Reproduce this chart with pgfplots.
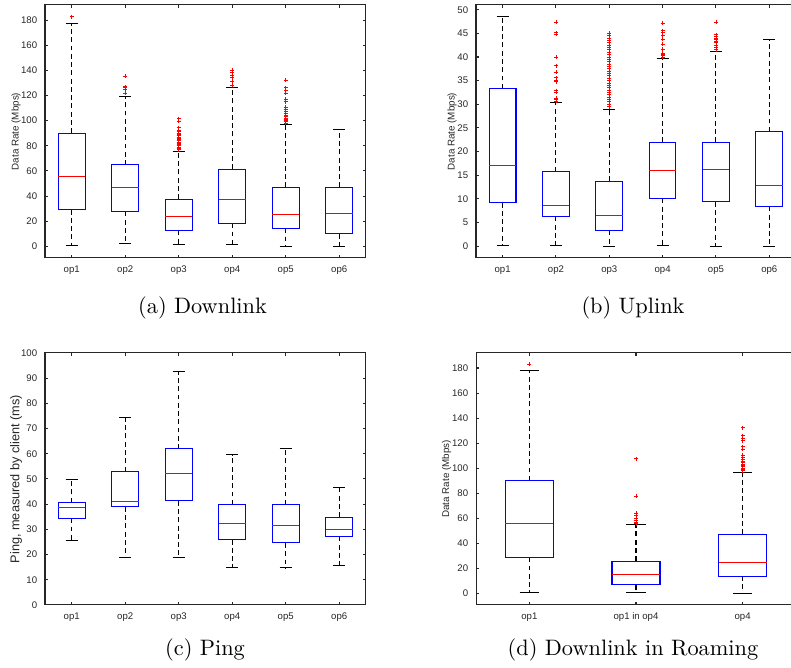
\documentclass[border=0pt]{standalone}
\usepackage{fontspec}
\usepackage{pgfplots}
\pgfplotsset{compat=1.18}
\usepgfplotslibrary{statistics}
\newfontfamily\arial{Liberation Sans}
\definecolor{axgray}{RGB}{38,38,38}
\pgfplotsset{
  myaxis/.style={
    scale only axis, anchor=south west,
    axis line style={draw=axgray, line width=0.45pt},
    tick style={draw=axgray, line width=0.45pt, solid},
    major tick length=1.4pt,
    tick align=inside,
    tick label style={font=\arial\fontsize{4.3}{5}\selectfont, text=axgray},
    ylabel style={font=\arial\fontsize{4.4}{5}\selectfont, text=axgray, anchor=center},
    /pgf/number format/assume math mode=true,
    clip mode=individual,
  },
  mybox/.style={
    boxplot/draw direction=y,
    boxplot/box extend=0.5,
    boxplot/whisker extend=0.23,
    boxplot/every box/.style={draw=blue, line width=0.45pt, solid},
    boxplot/every median/.style={draw=red, line width=0.45pt, solid},
    boxplot/every whisker/.style={draw=black, line width=0.45pt, dash pattern=on 2.2pt off 1.5pt},
    boxplot/draw/lower whisker/.code={%
      \draw[/pgfplots/boxplot/every whisker/.try]
        (boxplot whisker cs:\pgfplotsboxplotvalue{lower quartile},0.5) --
        (boxplot whisker cs:\pgfplotsboxplotvalue{lower whisker},0.5);
      \draw[black, line width=0.45pt, solid]
        (boxplot whisker cs:\pgfplotsboxplotvalue{lower whisker},0) --
        (boxplot whisker cs:\pgfplotsboxplotvalue{lower whisker},1);
    },
    boxplot/draw/upper whisker/.code={%
      \draw[/pgfplots/boxplot/every whisker/.try]
        (boxplot whisker cs:\pgfplotsboxplotvalue{upper quartile},0.5) --
        (boxplot whisker cs:\pgfplotsboxplotvalue{upper whisker},0.5);
      \draw[black, line width=0.45pt, solid]
        (boxplot whisker cs:\pgfplotsboxplotvalue{upper whisker},0) --
        (boxplot whisker cs:\pgfplotsboxplotvalue{upper whisker},1);
    },
    red, only marks, mark=+, mark size=0.9pt, mark options={red, solid, line width=0.4pt},
  },
}
\begin{document}
\begin{tikzpicture}
\useasboundingbox (0,0) rectangle (354.37pt,299.26pt);

% (a) Downlink
\begin{axis}[myaxis, at={(20.16pt,183.68pt)}, width=143.81pt, height=113.34pt,
  xmin=0.5, xmax=6.5, ymin=-9.3, ymax=192,
  xtick={1,...,6}, xticklabels={op1,op2,op3,op4,op5,op6},
  ytick={0,20,...,180},
  ylabel={Data Rate (Mbps)},
  ylabel style={at={(axis description cs:-0.0903,0.5)}}]
\addplot[mybox, boxplot prepared={draw position=1, median=55.7, upper quartile=90.1, lower quartile=29.2, upper whisker=177.4, lower whisker=0.5}] coordinates {(0,182.7)};
\addplot[mybox, boxplot prepared={draw position=2, median=46.4, upper quartile=64.7, lower quartile=27.8, upper whisker=119.3, lower whisker=2.4}] coordinates {(0,122)(0,124.5)(0,126)(0,127)(0,135.5)};
\addplot[mybox, boxplot prepared={draw position=3, median=23.9, upper quartile=37.6, lower quartile=12.5, upper whisker=75.6, lower whisker=1.1}] coordinates {(0,77)(0,78)(0,78.5)(0,79)(0,80)(0,80.5)(0,81)(0,82)(0,82.5)(0,83)(0,84)(0,84.5)(0,85)(0,86)(0,86.5)(0,87)(0,88)(0,88.5)(0,89)(0,90)(0,91)(0,92)(0,94.5)(0,99.5)(0,101.5)};
\addplot[mybox, boxplot prepared={draw position=4, median=37.1, upper quartile=61.2, lower quartile=18.3, upper whisker=126.2, lower whisker=1.6}] coordinates {(0,128)(0,131)(0,134)(0,136)(0,138.5)(0,140)};
\addplot[mybox, boxplot prepared={draw position=5, median=25.2, upper quartile=46.9, lower quartile=14.3, upper whisker=96.8, lower whisker=0}] coordinates {(0,98)(0,99)(0,100)(0,101)(0,102)(0,103)(0,104.5)(0,105.5)(0,107)(0,108.5)(0,110.5)(0,115)(0,117)(0,122)(0,124)(0,126)(0,132.3)};
\addplot[mybox, boxplot prepared={draw position=6, median=25.7, upper quartile=46.9, lower quartile=9.8, upper whisker=93.3, lower whisker=0}] coordinates {};
\end{axis}

% (b) Uplink
\begin{axis}[myaxis, at={(213.25pt,183.68pt)}, width=143.36pt, height=113.34pt,
  xmin=0.5, xmax=6.5, ymin=-2.5, ymax=51,
  xtick={1,...,6}, xticklabels={op1,op2,op3,op4,op5,op6},
  ytick={0,5,...,50},
  ylabel={Data Rate (Mbps)},
  ylabel style={at={(axis description cs:-0.075,0.5)}}]
\addplot[mybox, boxplot prepared={draw position=1, median=17.1, upper quartile=33.3, lower quartile=9.2, upper whisker=48.6, lower whisker=0.2}] coordinates {};
\addplot[mybox, boxplot prepared={draw position=2, median=8.7, upper quartile=15.8, lower quartile=6.3, upper whisker=30.3, lower whisker=0.2}] coordinates {(0,30.7)(0,31.0)(0,31.3)(0,32.5)(0,32.9)(0,34.8)(0,35.1)(0,35.6)(0,36.8)(0,38.2)(0,40)(0,44.8)(0,45.1)(0,47.3)};
\addplot[mybox, boxplot prepared={draw position=3, median=6.5, upper quartile=13.7, lower quartile=3.3, upper whisker=28.9, lower whisker=0}] coordinates {(0,29.5)(0,30)(0,30.5)(0,31)(0,31.5)(0,32)(0,32.5)(0,33)(0,33.5)(0,34)(0,34.5)(0,35)(0,35.5)(0,36)(0,36.5)(0,37)(0,37.5)(0,38)(0,38.5)(0,39)(0,39.5)(0,40)(0,40.5)(0,41)(0,41.5)(0,42)(0,42.5)(0,43)(0,43.5)(0,44)(0,44.5)(0,45)};
\addplot[mybox, boxplot prepared={draw position=4, median=16.1, upper quartile=22.0, lower quartile=10.1, upper whisker=39.7, lower whisker=0.1}] coordinates {(0,40.0)(0,40.3)(0,40.6)(0,40.8)(0,41.7)(0,42.7)(0,43.8)(0,44.5)(0,45.2)(0,45.6)(0,47.1)};
\addplot[mybox, boxplot prepared={draw position=5, median=16.3, upper quartile=22.0, lower quartile=9.4, upper whisker=41.2, lower whisker=0}] coordinates {(0,41.5)(0,42.0)(0,42.5)(0,43.0)(0,43.3)(0,43.7)(0,44.0)(0,44.4)(0,44.7)(0,47.4)};
\addplot[mybox, boxplot prepared={draw position=6, median=12.9, upper quartile=24.2, lower quartile=8.4, upper whisker=43.8, lower whisker=0}] coordinates {};
\end{axis}

% (c) Ping
\begin{axis}[myaxis, at={(20.16pt,28.22pt)}, width=143.81pt, height=112.9pt,
  xmin=0.5, xmax=6.5, ymin=0, ymax=100,
  xtick={1,...,6}, xticklabels={op1,op2,op3,op4,op5,op6},
  ytick={0,10,...,100},
  ylabel={Ping, measured by client (ms)},
  ylabel style={font=\arial\fontsize{5.7}{6}\selectfont, at={(axis description cs:-0.0903,0.5)}}]
\addplot[mybox, boxplot prepared={draw position=1, median=38.5, upper quartile=40.6, lower quartile=34.4, upper whisker=49.6, lower whisker=25.4}] coordinates {};
\addplot[mybox, boxplot prepared={draw position=2, median=40.9, upper quartile=53.0, lower quartile=38.9, upper whisker=74.2, lower whisker=18.7}] coordinates {};
\addplot[mybox, boxplot prepared={draw position=3, median=52.1, upper quartile=61.9, lower quartile=41.3, upper whisker=92.6, lower whisker=18.8}] coordinates {};
\addplot[mybox, boxplot prepared={draw position=4, median=32.5, upper quartile=39.8, lower quartile=25.9, upper whisker=59.7, lower whisker=14.9}] coordinates {};
\addplot[mybox, boxplot prepared={draw position=5, median=31.6, upper quartile=39.8, lower quartile=24.6, upper whisker=61.9, lower whisker=14.7}] coordinates {};
\addplot[mybox, boxplot prepared={draw position=6, median=29.9, upper quartile=34.9, lower quartile=27.2, upper whisker=46.8, lower whisker=15.7}] coordinates {};
\end{axis}

% (d) Downlink in Roaming
\begin{axis}[myaxis, at={(213.25pt,28.22pt)}, width=143.36pt, height=112.9pt,
  xmin=0.5, xmax=3.5, ymin=-9.3, ymax=192,
  xtick={1,2,3}, xticklabels={op1,op1 in op4,op4},
  ytick={0,20,...,180},
  ylabel={Data Rate (Mbps)},
  ylabel style={at={(axis description cs:-0.0916,0.5)}}]
\addplot[mybox, boxplot/box extend=0.45, boxplot/whisker extend=0.18, boxplot prepared={draw position=1, median=55.9, upper quartile=90, lower quartile=28.8, upper whisker=177.8, lower whisker=0.3}] coordinates {(0,183.2)};
\addplot[mybox, boxplot/box extend=0.45, boxplot/whisker extend=0.18, boxplot prepared={draw position=2, median=15.4, upper quartile=25.8, lower quartile=6.7, upper whisker=54.8, lower whisker=0.3}] coordinates {(0,55.5)(0,56.5)(0,58.5)(0,60)(0,62)(0,64)(0,77.5)(0,107.5)};
\addplot[mybox, boxplot/box extend=0.45, boxplot/whisker extend=0.18, boxplot prepared={draw position=3, median=25.0, upper quartile=47.1, lower quartile=13.8, upper whisker=96.9, lower whisker=0}] coordinates {(0,98)(0,99)(0,100)(0,101)(0,102)(0,103)(0,104.5)(0,105.5)(0,107)(0,108.5)(0,110.5)(0,115)(0,117)(0,122)(0,124)(0,126)(0,132.3)};
\end{axis}

\node[anchor=base] at (90.72pt,158.59pt) {(a) Downlink};
\node[anchor=base] at (283.58pt,158.59pt) {(b) Uplink};
\node[anchor=base] at (91.84pt,5.38pt) {(c) Ping};
\node[anchor=base] at (283.58pt,5.38pt) {(d) Downlink in Roaming};
\end{tikzpicture}
\end{document}
